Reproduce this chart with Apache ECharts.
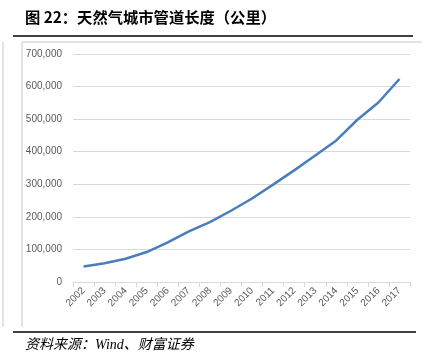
<!DOCTYPE html>
<html><head><meta charset="utf-8">
<script src="https://cdn.jsdelivr.net/npm/echarts@6/dist/echarts.min.js"></script>
<style>html,body{margin:0;padding:0;background:#fff}#c{width:431px;height:363px}</style>
</head><body><div id="c"></div>
<script>
const years = ['2002','2003','2004','2005','2006','2007','2008','2009','2010','2011','2012','2013','2014','2015','2016','2017'];
const pipelineKm = [47652,57845,71411,92043,121498,155251,184084,218778,256429,298972,342752,388473,434571,498087,551036,623253];
const yTicks = [0,100000,200000,300000,400000,500000,600000,700000];
const titleText = '图 22：天然气城市管道长度（公里）';
const sourceText = '资料来源：Wind、财富证券';

const chart = echarts.init(document.getElementById('c'), null, {renderer:'canvas'});
chart.setOption({
  animation:false,
  grid:{left:73,right:21,top:54,bottom:81,containLabel:false},
  xAxis:{type:'category',data:years,boundaryGap:true,
    axisLine:{lineStyle:{color:'#d9d9d9'}},
    axisTick:{show:true,lineStyle:{color:'#d9d9d9'},length:5},
    axisLabel:{rotate:45,color:'#595959',fontSize:10,fontFamily:'Liberation Sans',margin:7,interval:0}},
  yAxis:{type:'value',min:yTicks[0],max:yTicks[yTicks.length-1],interval:100000,
    axisLine:{show:false},axisTick:{show:false},
    splitLine:{lineStyle:{color:'#d9d9d9'}},
    axisLabel:{color:'#595959',fontSize:10,fontFamily:'Liberation Sans',margin:11,
      formatter:v=>v.toLocaleString('en-US')}},
  series:[{type:'line',data:pipelineKm,symbol:'none',smooth:false,
    lineStyle:{color:'#4a7ebb',width:2.5}}],
  graphic:[
    {type:'text',left:25,top:10,style:{text:titleText,fill:'#000',font:'bold 15.3px "Noto Sans CJK SC"'}},
    {type:'line',shape:{x1:13,y1:36,x2:413,y2:36},style:{stroke:'#000',lineWidth:1.5}},
    {type:'line',shape:{x1:22,y1:42,x2:422,y2:42},style:{stroke:'#c8c8c8',lineWidth:1}},
    {type:'line',shape:{x1:22,y1:42,x2:22,y2:327},style:{stroke:'#c8c8c8',lineWidth:1}},
    {type:'line',shape:{x1:3,y1:42,x2:3,y2:327},style:{stroke:'#c8c8c8',lineWidth:1}},
    {type:'line',shape:{x1:13,y1:332,x2:416,y2:332},style:{stroke:'#000',lineWidth:1.5}},
    {type:'text',left:25,top:338,style:{text:sourceText,fill:'#000',font:'italic 14px "Liberation Serif", "Noto Sans CJK SC"'}}
  ]
});
</script></body></html>
